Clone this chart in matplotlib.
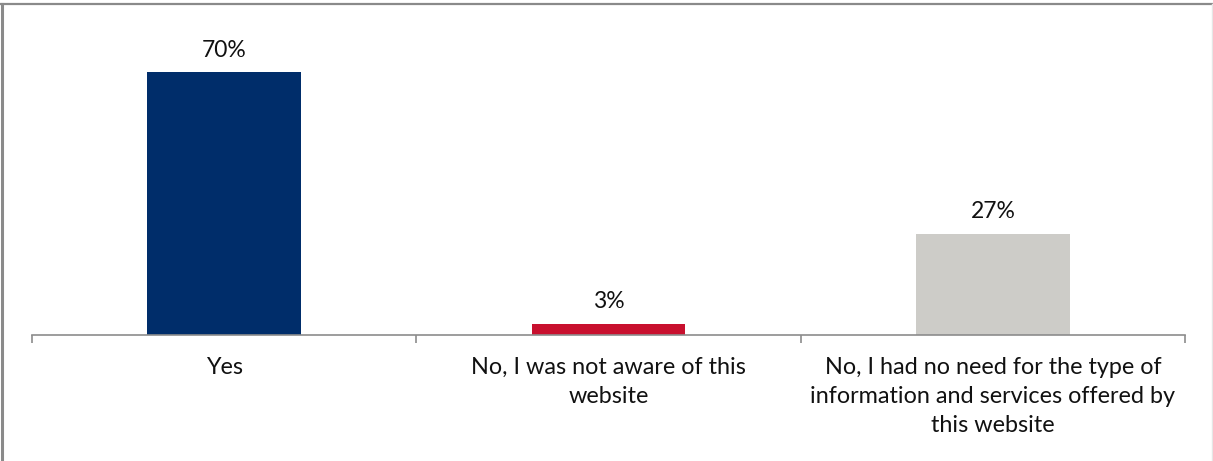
import matplotlib.pyplot as plt
from matplotlib.lines import Line2D

# Survey responses
categories = ['Yes',
              'No, I was not aware of this\nwebsite',
              'No, I had no need for the type of\ninformation and services offered by\nthis website']
shares = [70, 3, 27]
bar_colors = ['#002d6a', '#c8102e', '#cdccc8']

plt.rcParams['font.family'] = ['Lato', 'DejaVu Sans']

W, H = 1213, 461
fig = plt.figure(figsize=(W / 100, H / 100), dpi=100)
ax = fig.add_axes([32 / W, (H - 335) / H, (1185 - 32) / W, (335 - 10) / H])

x = range(len(categories))
bars = ax.bar(x, shares, width=0.4, color=bar_colors, zorder=2)
for rect, v in zip(bars, shares):
    ax.text(rect.get_x() + rect.get_width() / 2, v + 5.8, f'{v}%',
            ha='center', va='center', fontsize=16.5, color='#111111')

ax.set_xlim(-0.5, len(categories) - 0.5)
ax.set_ylim(0, (335 - 10) / 3.757)
ax.set_yticks([])
ax.set_xticks([i - 0.5 for i in range(len(categories) + 1)])
ax.set_xticklabels([])
ax.set_xticks(list(x), minor=True)
ax.set_xticklabels(categories, minor=True, fontsize=16.8, color='#111111',
                   linespacing=1.45, va='top')
ax.tick_params(axis='x', which='major', length=6, width=1.2, color='#8c8c8c',
               direction='out')
ax.tick_params(axis='x', which='minor', length=0, pad=16)
for s in ['top', 'left', 'right']:
    ax.spines[s].set_visible(False)
ax.spines['bottom'].set_color('#8c8c8c')
ax.spines['bottom'].set_linewidth(1.2)

# outer frame
fig.add_artist(Line2D([2 / W, 2 / W], [0, (H - 4) / H], transform=fig.transFigure,
                      color='#8a8a8a', lw=2.2))
fig.add_artist(Line2D([1 / W, 1], [(H - 4) / H, (H - 4) / H], transform=fig.transFigure,
                      color='#8a8a8a', lw=1.6))
fig.add_artist(Line2D([1212 / W, 1212 / W], [0, (H - 4) / H], transform=fig.transFigure,
                      color='#e6e6e6', lw=1))

fig.savefig('out.png', dpi=100)
